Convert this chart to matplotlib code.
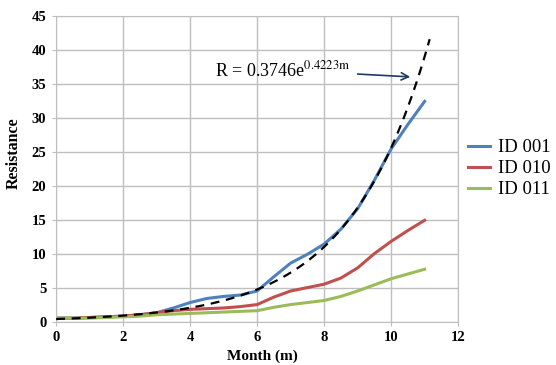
"""
Resistance vs month with exponential trendline
"""

import numpy as np
import matplotlib.pyplot as plt

# ---------------------------------
# Data
# ---------------------------------

month = [0, 0.5, 1, 1.5, 2, 2.5, 3, 3.5, 4, 4.5, 5, 5.5,
         6, 6.5, 7, 7.5, 8, 8.5, 9, 9.5, 10, 10.5, 11]

id_001 = [0.5, 0.5, 0.6, 0.7, 0.8, 1.0, 1.3, 2.0, 2.8, 3.4, 3.7, 3.9,
          4.5, 6.6, 8.6, 9.9, 11.4, 13.6, 16.6, 20.8, 25.4, 29.0, 32.4]

id_010 = [0.5, 0.5, 0.6, 0.7, 0.8, 1.0, 1.3, 1.6, 1.8, 1.9, 2.0, 2.2,
          2.5, 3.6, 4.5, 5.0, 5.5, 6.4, 7.9, 10.0, 11.8, 13.4, 14.9]

id_011 = [0.5, 0.5, 0.5, 0.6, 0.7, 0.8, 1.0, 1.1, 1.2, 1.3, 1.4, 1.5,
          1.6, 2.1, 2.5, 2.8, 3.1, 3.7, 4.5, 5.4, 6.3, 7.0, 7.7]

# exponential trendline coefficients shown on the chart
fit_a = 0.3746
fit_b = 0.4223
fit_end = 11.15

series_names = ["ID 001", "ID 010", "ID 011"]
series_colors = ["#4F81BD", "#C0504D", "#9BBB59"]

# ---------------------------------
# Figure
# ---------------------------------

plt.rcParams["font.family"] = ["Liberation Serif", "DejaVu Serif"]
plt.rcParams["mathtext.fontset"] = "stix"

fig = plt.figure(figsize=(5.56, 3.65), dpi=100)
ax = fig.add_axes([0.101, 0.119, 0.723, 0.838])

for values, name, color in zip([id_001, id_010, id_011], series_names, series_colors):
    ax.plot(
        month,
        values,
        color=color,
        linewidth=2.2,
        label=name,
        solid_joinstyle="round"
    )

m_fit = np.linspace(0, fit_end, 200)
ax.plot(
    m_fit,
    fit_a * np.exp(fit_b * m_fit),
    color="black",
    linewidth=1.6,
    dashes=(4, 3),
    zorder=5
)

ax.annotate(
    r"R = 0.3746e$^{\mathrm{0.4223m}}$",
    xy=(10.57, 36.0),
    xytext=(4.75, 37.0),
    fontsize=13,
    va="center",
    ha="left",
    arrowprops=dict(
        arrowstyle="->",
        color="#1F3864",
        linewidth=1.2,
        shrinkA=3,
        shrinkB=0
    )
)

ax.set_xlim(0, 12)
ax.set_ylim(0, 45)
ax.set_xticks(range(0, 13, 2))
ax.set_yticks(range(0, 46, 5))

ax.grid(True, color="#BFBFBF", linewidth=1)
ax.set_axisbelow(True)

for spine in ax.spines.values():
    spine.set_color("#BFBFBF")

ax.tick_params(length=3, color="#BFBFBF", labelsize=10.5, pad=4)
for label in ax.get_xticklabels() + ax.get_yticklabels():
    label.set_fontweight("bold")

ax.set_xlabel("Month (m)", fontsize=11, fontweight="bold")
ax.set_ylabel("Resistance", fontsize=11.5, fontweight="bold")
ax.xaxis.set_label_coords(0.512, -0.09)
ax.yaxis.set_label_coords(-0.085, 0.55)

ax.legend(
    loc="center left",
    bbox_to_anchor=(1.005, 0.5),
    frameon=False,
    fontsize=13.5,
    handlelength=1.2,
    handletextpad=0.4,
    labelspacing=0.2,
    borderaxespad=0
)

plt.savefig("out.png", dpi=100)
